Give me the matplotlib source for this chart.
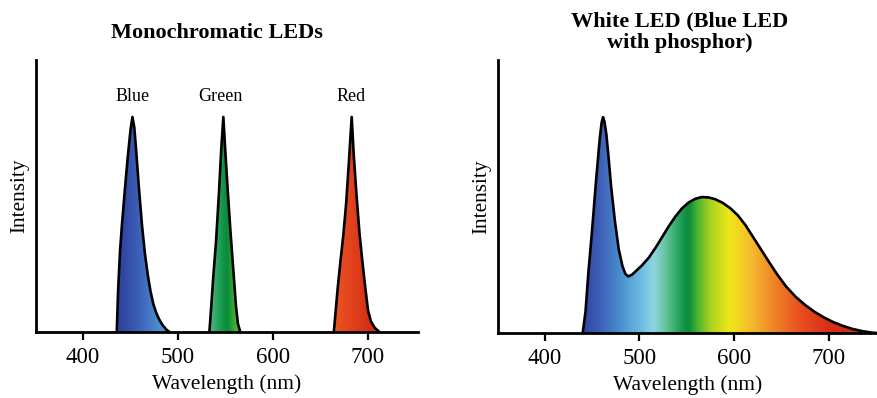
import numpy as np
import matplotlib
matplotlib.use("Agg")
import matplotlib.pyplot as plt
from matplotlib.colors import LinearSegmentedColormap, Normalize

plt.rcParams["font.family"] = ["Liberation Serif", "DejaVu Serif"]

# ---------------------------------------------------------------------------
# Data (wavelength in nm, intensity normalised to peak)
# ---------------------------------------------------------------------------
blue_nm = [435.5, 437, 439, 441, 444, 447, 450, 452, 454, 456, 459, 462,
           465, 468, 471, 474, 477, 480, 484, 488, 491]
blue_I = [0, 0.2, 0.38, 0.5, 0.66, 0.81, 0.94, 1.0, 0.95, 0.84, 0.66, 0.5,
          0.37, 0.27, 0.19, 0.13, 0.09, 0.06, 0.03, 0.01, 0]

green_nm = [533, 535, 537, 540, 543, 545.5, 547.7, 549.5, 552, 555, 558,
            561, 563, 565.5]
green_I = [0, 0.12, 0.25, 0.42, 0.64, 0.85, 1.0, 0.86, 0.68, 0.48, 0.3,
           0.12, 0.04, 0]

red_nm = [664, 666, 668, 671, 674, 677, 680, 682.8, 685, 688, 691, 694,
          697, 700, 703, 707, 712]
red_I = [0, 0.1, 0.2, 0.33, 0.45, 0.6, 0.8, 1.0, 0.82, 0.63, 0.46, 0.33,
         0.21, 0.1, 0.05, 0.02, 0]

mono_labels = ["Blue", "Green", "Red"]
mono_label_nm = [452.6, 545, 682]

white_nm = [440, 443, 446, 450, 454, 458, 460, 461.5, 463, 465, 467, 470,
            474, 478, 482, 485, 488, 492, 497, 503, 510, 517, 524, 531, 538,
            545, 552, 559, 566, 573, 580, 588, 596, 604, 612, 620, 628, 636,
            645, 655, 665, 675, 685, 695, 705, 715, 725, 735, 745, 750]
white_I = [0, 0.1, 0.28, 0.48, 0.7, 0.9, 0.975, 1.0, 0.98, 0.92, 0.83, 0.68,
           0.52, 0.39, 0.31, 0.275, 0.262, 0.27, 0.29, 0.315, 0.35, 0.395,
           0.445, 0.495, 0.54, 0.578, 0.605, 0.622, 0.63, 0.628, 0.62, 0.603,
           0.578, 0.545, 0.5, 0.445, 0.39, 0.335, 0.275, 0.215, 0.168, 0.13,
           0.098, 0.072, 0.05, 0.033, 0.019, 0.009, 0.002, 0]

xticks = [400, 500, 600, 700]

# spectrum colours (wavelength stop -> colour), picked from the fill
spec_nm = [380, 440, 460, 480, 500, 515, 530, 545, 552, 560, 575, 595, 620,
           640, 670, 700, 760]
spec_col = ["#2c3e9a", "#2f45a2", "#3f63b8", "#4a90d0", "#6ab8e0", "#8fd6e0",
            "#5cc090", "#1a9a50", "#0a8a3a", "#40b030", "#a8d020", "#f0e818",
            "#f5b830", "#f08a28", "#e85020", "#d83018", "#c02818"]

lo, hi = spec_nm[0], spec_nm[-1]
spectrum = LinearSegmentedColormap.from_list(
    "spectrum", [((w - lo) / (hi - lo), c) for w, c in zip(spec_nm, spec_col)])


def fill_spectrum(ax, nm, intensity):
    """Fill under the curve with a wavelength-coloured gradient, then outline it."""
    poly = ax.fill_between(nm, intensity, 0, color="none", lw=0)
    x0, x1 = ax.get_xlim()
    ramp = np.linspace(x0, x1, 800)[np.newaxis, :]
    img = ax.imshow(ramp, extent=[x0, x1, 0, ax.get_ylim()[1]], aspect="auto",
                    cmap=spectrum, norm=Normalize(lo, hi), origin="lower",
                    interpolation="bilinear", zorder=1)
    img.set_clip_path(poly.get_paths()[0], transform=ax.transData)
    ax.plot(nm, intensity, color="black", lw=1.9, zorder=3,
            solid_joinstyle="round")


def style_axes(ax, xlim):
    ax.set_xlim(*xlim)
    ax.set_ylim(0, 1.265)
    for side in ["top", "right"]:
        ax.spines[side].set_visible(False)
    for side in ["left", "bottom"]:
        ax.spines[side].set_linewidth(2.0)
    ax.set_yticks([])
    ax.set_xticks(xticks)
    ax.tick_params(axis="x", direction="out", length=6, width=1.6,
                   labelsize=16.5, pad=5)
    ax.set_xlabel("Wavelength (nm)", fontsize=15.5, labelpad=4)
    ax.set_ylabel("Intensity", fontsize=15.3, labelpad=5)


fig = plt.figure(figsize=(8.78, 3.98), dpi=100)

# --- left: monochromatic LEDs ---
ax1 = fig.add_axes([36 / 878, 66 / 398, 382 / 878, 272 / 398])
style_axes(ax1, (350.5, 752.6))
for nm, I in [(blue_nm, blue_I), (green_nm, green_I), (red_nm, red_I)]:
    fill_spectrum(ax1, nm, I)
for name, x in zip(mono_labels, mono_label_nm):
    ax1.text(x, 1.093, name, ha="center", va="center", fontsize=13)
fig.text(217 / 878, 1 - 33 / 398, "Monochromatic LEDs", ha="center",
         va="center", fontsize=16, fontweight="bold")

# --- right: white LED ---
ax2 = fig.add_axes([498 / 878, 65 / 398, 379 / 878, 273 / 398])
style_axes(ax2, (350.5, 751))
fill_spectrum(ax2, white_nm, white_I)
fig.text(680 / 878, 1 - 32 / 398, "White LED (Blue LED\nwith phosphor)",
         ha="center", va="center", fontsize=16, fontweight="bold",
         linespacing=1.1)

fig.savefig("out.png", dpi=100)
